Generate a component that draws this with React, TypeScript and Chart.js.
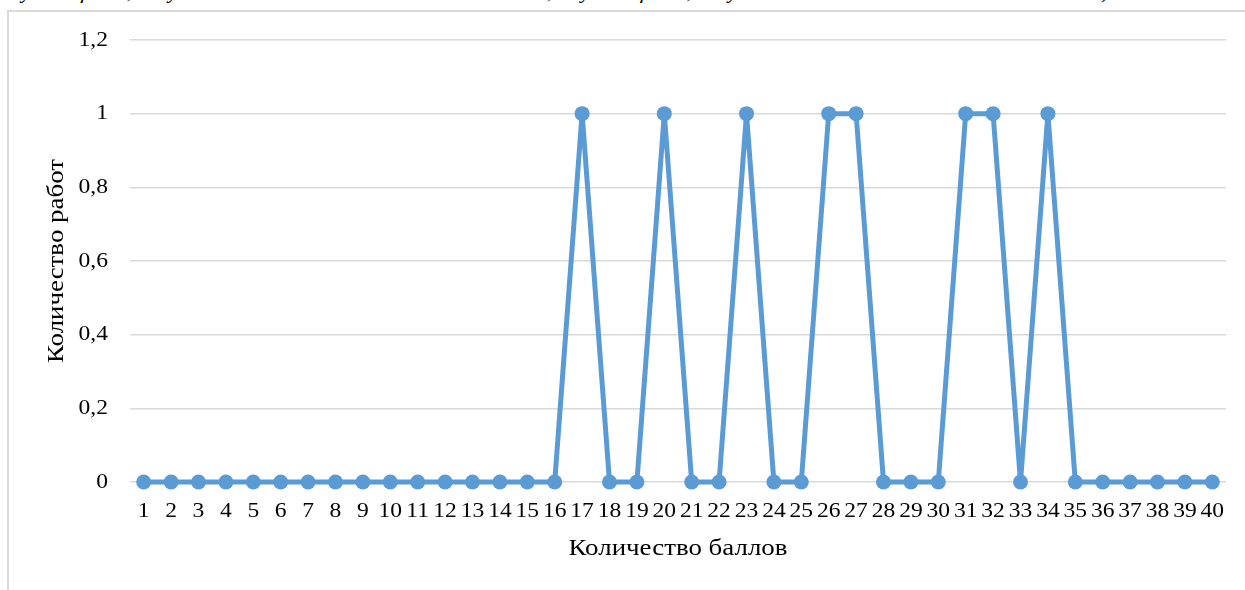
import React, { useEffect, useRef } from "react";
import { Chart, registerables } from "chart.js";

Chart.register(...registerables);

const categories: string[] = Array.from({ length: 40 }, (_, i) => String(i + 1));
const workCounts: number[] = [
  0, 0, 0, 0, 0, 0, 0, 0, 0, 0,
  0, 0, 0, 0, 0, 0, 1, 0, 0, 1,
  0, 0, 1, 0, 0, 1, 1, 0, 0, 0,
  1, 1, 0, 1, 0, 0, 0, 0, 0, 0,
];
const yTickLabels: string[] = ["0", "0,2", "0,4", "0,6", "0,8", "1", "1,2"];
const xAxisTitle = "Количество баллов";
const yAxisTitle = "Количество работ";
const topCaption =
  "обучающийся, получивший наименьшее количество баллов; обучающийся, получивший наибольшее количество баллов).";

const FONT = "'Liberation Serif', 'Times New Roman', serif";
const BLUE = "#5B9BD5";
const GRID = "#d9d9d9";
const TEXT = "#000";
const TICK_SIZE = 22;
const TICK_STRETCH = 1.07;
const TITLE_SIZE = 23;
const TITLE_STRETCH = 1.17;

function drawStretched(
  ctx: CanvasRenderingContext2D,
  text: string,
  x: number,
  y: number,
  rotation: number,
  stretch: number
) {
  ctx.save();
  ctx.translate(x, y);
  if (rotation) ctx.rotate(rotation);
  ctx.scale(stretch, 1);
  ctx.fillText(text, 0, 0);
  ctx.restore();
}

const axisTextPlugin = {
  id: "axisText",
  afterDraw(chart: any) {
    const ctx: CanvasRenderingContext2D = chart.ctx;
    const xs = chart.scales.x;
    const ys = chart.scales.y;
    const area = chart.chartArea;
    ctx.save();
    ctx.fillStyle = TEXT;
    ctx.textBaseline = "middle";
    ctx.font = `${TICK_SIZE}px ${FONT}`;

    // y tick labels
    ctx.textAlign = "right";
    ys.ticks.forEach((t: any, i: number) => {
      drawStretched(ctx, yTickLabels[i] ?? String(t.value), ys.right - 22, ys.getPixelForValue(t.value), 0, TICK_STRETCH);
    });

    // x tick labels
    ctx.textAlign = "center";
    xs.ticks.forEach((_t: any, i: number) => {
      drawStretched(ctx, categories[i], xs.getPixelForTick(i), area.bottom + 29, 0, TICK_STRETCH);
    });

    // axis titles
    ctx.font = `${TITLE_SIZE}px ${FONT}`;
    drawStretched(ctx, xAxisTitle, (area.left + area.right) / 2, area.bottom + 67, 0, TITLE_STRETCH);
    drawStretched(ctx, yAxisTitle, 57, (area.top + area.bottom) / 2, -Math.PI / 2, TITLE_STRETCH);
    ctx.restore();
  },
};

export default function App() {
  const canvasRef = useRef<HTMLCanvasElement | null>(null);

  useEffect(() => {
    if (!canvasRef.current) return;
    const chart = new Chart(canvasRef.current, {
      type: "line",
      data: {
        labels: categories,
        datasets: [
          {
            data: workCounts,
            borderColor: BLUE,
            backgroundColor: BLUE,
            borderWidth: 5,
            pointRadius: 7.5,
            pointBorderWidth: 0,
            pointBackgroundColor: BLUE,
            tension: 0,
            clip: false,
          },
        ],
      },
      options: {
        animation: false,
        responsive: false,
        maintainAspectRatio: false,
        layout: { padding: { left: 0, top: 40, right: 19, bottom: 0 } },
        plugins: {
          legend: { display: false },
          tooltip: { enabled: false },
        },
        scales: {
          x: {
            type: "category",
            offset: true,
            grid: { display: false, drawTicks: false },
            border: { display: false },
            ticks: { display: false, autoSkip: false, maxRotation: 0 },
            title: { display: false },
            afterFit: (scale: any) => {
              scale.height = 108;
            },
          },
          y: {
            min: 0,
            max: 1.2,
            grid: { color: GRID, lineWidth: 1.5, drawTicks: false },
            border: { display: false },
            ticks: { display: false, stepSize: 0.2 },
            title: { display: false },
            afterFit: (scale: any) => {
              scale.width = 130;
            },
          },
        },
      },
      plugins: [axisTextPlugin],
    });
    return () => chart.destroy();
  }, []);

  return (
    <div
      style={{
        position: "absolute",
        left: 0,
        top: 0,
        width: 1245,
        height: 590,
        overflow: "hidden",
        background: "#fff",
      }}
    >
      <div
        style={{
          position: "absolute",
          left: 0,
          top: -22,
          whiteSpace: "nowrap",
          fontFamily: FONT,
          fontStyle: "italic",
          fontSize: 22,
          lineHeight: "26px",
          color: "#000",
        }}
      >
        {topCaption}
      </div>
      <div
        style={{
          position: "absolute",
          left: 7,
          top: 10,
          width: 1300,
          height: 700,
          border: `2px solid ${GRID}`,
          boxSizing: "border-box",
        }}
      />
      <canvas
        ref={canvasRef}
        width={1245}
        height={590}
        style={{ position: "absolute", left: 0, top: 0, width: 1245, height: 590 }}
      />
    </div>
  );
}
